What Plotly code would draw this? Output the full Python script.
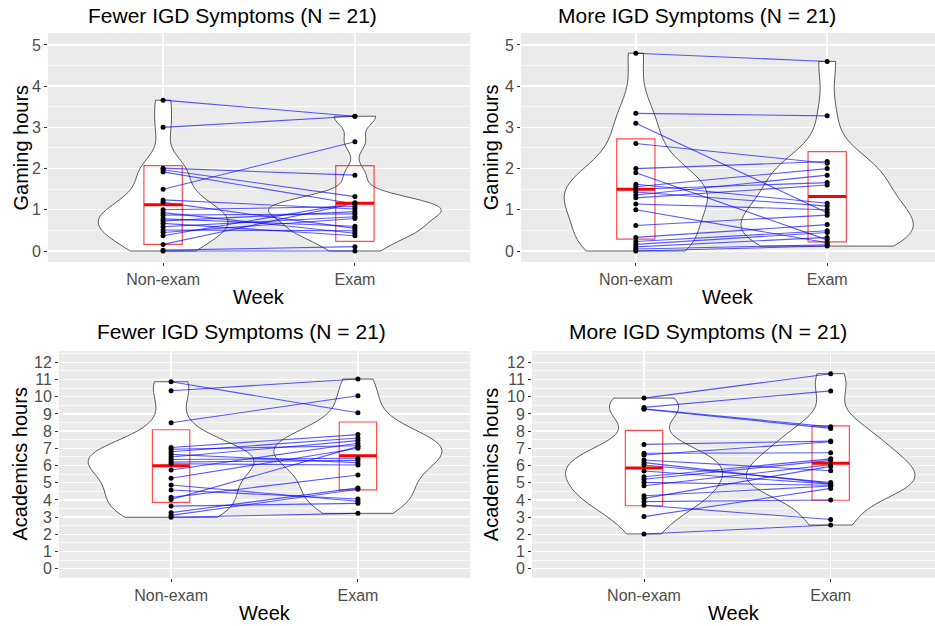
import numpy as np
import plotly.graph_objects as go

# ---------------- data ----------------
WEEKS = ["Non-exam", "Exam"]
PANEL_TITLES = ["Fewer IGD Symptoms (N = 21)", "More IGD Symptoms (N = 21)",
                "Fewer IGD Symptoms (N = 21)", "More IGD Symptoms (N = 21)"]
Y_TITLES = ["Gaming hours", "Gaming hours", "Academics hours", "Academics hours"]
X_TITLE = "Week"

# paired observations (same index = same participant)
gaming_fewer_nonexam = [3.66, 3.00, 2.01, 1.97, 1.92, 1.50, 1.24, 1.18, 1.00, 0.93, 0.87,
                        0.78, 0.73, 0.67, 0.59, 0.51, 0.45, 0.37, 0.16, 0.02, 0.00]
gaming_fewer_exam = [3.27, 3.27, 1.84, 1.32, 1.14, 2.65, 1.02, 0.55, 1.08, 0.43, 0.90,
                     0.60, 0.955, 0.37, 0.83, 0.49, 0.79, 1.17, 1.16, 0.105, 0.00]

gaming_more_nonexam = [4.80, 3.34, 3.10, 2.61, 2.00, 1.90, 1.62, 1.56, 1.50, 1.43, 1.36,
                       1.29, 1.14, 1.00, 0.62, 0.33, 0.23, 0.16, 0.10, 0.05, 0.00]
gaming_more_exam = [4.60, 3.28, 0.93, 2.13, 2.17, 0.27, 1.16, 2.00, 1.66, 1.09, 1.84,
                    1.60, 1.00, 0.20, 0.87, 0.64, 0.49, 0.45, 0.33, 0.15, 0.12]

acad_fewer_nonexam = [10.87, 10.35, 8.49, 7.05, 6.95, 6.80, 6.65, 6.50, 6.35, 6.20, 6.10,
                      5.74, 5.26, 4.87, 4.58, 4.15, 4.03, 3.64, 3.26, 3.10, 2.99]
acad_fewer_exam = [9.07, 11.03, 10.06, 7.80, 7.15, 7.60, 6.16, 7.45, 6.42, 6.30, 6.03,
                   7.30, 7.00, 3.92, 4.05, 5.45, 7.10, 3.80, 4.70, 4.62, 3.22]

acad_more_nonexam = [9.92, 9.38, 9.30, 9.27, 7.23, 6.71, 6.61, 6.32, 6.17, 6.03, 5.68,
                     5.35, 5.20, 5.02, 4.82, 4.24, 4.09, 3.90, 3.69, 3.03, 2.02]
acad_more_exam = [11.34, 10.34, 8.25, 8.16, 7.42, 6.74, 7.38, 5.70, 4.95, 5.01, 4.92,
                  6.39, 6.30, 4.85, 6.05, 4.81, 5.95, 4.00, 2.86, 4.67, 2.54]

# crossbar summaries (mean - sd, mean, mean + sd) for [Non-exam, Exam]
gaming_fewer_lo, gaming_fewer_mid, gaming_fewer_hi = [0.16, 0.235], [1.12, 1.16], [2.07, 2.07]
gaming_more_lo, gaming_more_mid, gaming_more_hi = [0.29, 0.22], [1.50, 1.32], [2.72, 2.41]
acad_fewer_lo, acad_fewer_mid, acad_fewer_hi = [3.86, 4.59], [5.99, 6.57], [8.08, 8.53]
acad_more_lo, acad_more_mid, acad_more_hi = [3.66, 3.98], [5.85, 6.13], [8.05, 8.31]

GAMING_TICKS = [0, 1, 2, 3, 4, 5]
ACAD_TICKS = list(range(0, 13))

# ---------------- layout constants ----------------
W, H = 935, 626
FONT = "Liberation Sans, Arial, sans-serif"
VIOLIN_MAX_WIDTH = 0.9
CROSSBAR_WIDTH = 0.2


def px_x(x):
    return x / W


def px_y(y):
    return 1 - y / H


panels = [
    dict(ne=gaming_fewer_nonexam, ex=gaming_fewer_exam, lo=gaming_fewer_lo, mid=gaming_fewer_mid,
         hi=gaming_fewer_hi, ticks=GAMING_TICKS, yr=[-0.267, 5.29],
         xpx=[48, 470], xr=[-0.6, 1.6], ypx=[33, 262],
         title_xy=(232.5, 15.5), ytitle_x=20, xtitle_y=296.7),
    dict(ne=gaming_more_nonexam, ex=gaming_more_exam, lo=gaming_more_lo, mid=gaming_more_mid,
         hi=gaming_more_hi, ticks=GAMING_TICKS, yr=[-0.267, 5.29],
         xpx=[521, 935], xr=[-0.6, 1.6 - 7 / 191.3], ypx=[33, 262],
         title_xy=(697, 15.5), ytitle_x=490.7, xtitle_y=296.7),
    dict(ne=acad_fewer_nonexam, ex=acad_fewer_exam, lo=acad_fewer_lo, mid=acad_fewer_mid,
         hi=acad_fewer_hi, ticks=ACAD_TICKS, yr=[-0.54, 12.66],
         xpx=[59, 470], xr=[-0.6, 1.6], ypx=[351, 578],
         title_xy=(241, 331.5), ytitle_x=20, xtitle_y=613),
    dict(ne=acad_more_nonexam, ex=acad_more_exam, lo=acad_more_lo, mid=acad_more_mid,
         hi=acad_more_hi, ticks=ACAD_TICKS, yr=[-0.54, 12.66],
         xpx=[532, 935], xr=[-0.6, 1.6 - 7.7 / 186.7], ypx=[351, 578],
         title_xy=(707.5, 331.5), ytitle_x=491.7, xtitle_y=613),
]


def nrd0(x):
    x = np.asarray(x, float)
    sd = np.std(x, ddof=1)
    q75, q25 = np.percentile(x, [75, 25])
    lo = min(sd, (q75 - q25) / 1.34)
    if lo <= 0:
        lo = sd if sd > 0 else 1.0
    return 0.9 * lo * len(x) ** -0.2


def kde_peak(x, bw):
    x = np.asarray(x, float)
    grid = np.linspace(x.min(), x.max(), 512)
    d = np.exp(-0.5 * ((grid[:, None] - x[None, :]) / bw) ** 2).sum(1)
    return (d / (len(x) * bw * np.sqrt(2 * np.pi))).max()


fig = go.Figure()
annotations = []
layout_axes = {}

for i, p in enumerate(panels):
    k = "" if i == 0 else str(i + 1)
    xa, ya = "x" + k, "y" + k
    groups = [p["ne"], p["ex"]]
    positions = list(range(len(WEEKS)))

    # violins (ggplot scale="area": width proportional to peak density)
    bws = [nrd0(g) for g in groups]
    peaks = [kde_peak(g, b) for g, b in zip(groups, bws)]
    pmax = max(peaks)
    for pos, g, b, pk in zip(positions, groups, bws, peaks):
        fig.add_trace(go.Violin(
            x0=pos, y=g, xaxis=xa, yaxis=ya, bandwidth=b,
            width=VIOLIN_MAX_WIDTH * pk / pmax, scalemode="width", spanmode="hard",
            side="both", points=False, fillcolor="white",
            line=dict(color="#333333", width=0.8), hoverinfo="skip",
            showlegend=False))

    # paired lines
    lx, ly = [], []
    for a, b in zip(p["ne"], p["ex"]):
        lx += [positions[0], positions[1], None]
        ly += [a, b, None]
    fig.add_trace(go.Scatter(x=lx, y=ly, xaxis=xa, yaxis=ya, mode="lines",
                             line=dict(color="rgba(0,0,255,0.65)", width=1.1),
                             hoverinfo="skip", showlegend=False))

    # crossbars
    fig.add_trace(go.Box(
        x=positions, q1=p["lo"], median=p["mid"], q3=p["hi"],
        lowerfence=p["lo"], upperfence=p["hi"], width=CROSSBAR_WIDTH,
        xaxis=xa, yaxis=ya, fillcolor="rgba(0,0,0,0)", whiskerwidth=0,
        line=dict(color="rgba(255,0,0,0.7)", width=1.2), hoverinfo="skip",
        showlegend=False))
    mx, my = [], []
    for pos, m in zip(positions, p["mid"]):
        mx += [pos - CROSSBAR_WIDTH / 2, pos + CROSSBAR_WIDTH / 2, None]
        my += [m, m, None]
    fig.add_trace(go.Scatter(x=mx, y=my, xaxis=xa, yaxis=ya, mode="lines",
                             line=dict(color="#FF0000", width=3),
                             hoverinfo="skip", showlegend=False))

    # points
    fig.add_trace(go.Scatter(
        x=[positions[0]] * len(p["ne"]) + [positions[1]] * len(p["ex"]),
        y=list(p["ne"]) + list(p["ex"]), xaxis=xa, yaxis=ya, mode="markers",
        marker=dict(color="black", size=5), hoverinfo="skip", showlegend=False))

    xdom = [px_x(p["xpx"][0]), min(1.0, px_x(p["xpx"][1]))]
    ydom = [px_y(p["ypx"][1]), px_y(p["ypx"][0])]
    layout_axes["xaxis" + k] = dict(
        domain=xdom, range=p["xr"], anchor=ya, tickvals=positions, ticktext=WEEKS,
        showgrid=True, gridcolor="white", gridwidth=1.4, zeroline=False,
        ticks="outside", ticklen=3, tickwidth=1, tickcolor="#333333",
        tickfont=dict(size=16, color="#4D4D4D", family=FONT), showline=False,
        fixedrange=True)
    layout_axes["yaxis" + k] = dict(
        domain=ydom, range=p["yr"], anchor=xa, tickvals=p["ticks"],
        showgrid=True, gridcolor="white", gridwidth=1.4, zeroline=False,
        ticks="outside", ticklen=3, tickwidth=1, tickcolor="#333333",
        tickfont=dict(size=16, color="#4D4D4D", family=FONT), showline=False,
        minor=dict(dtick=0.5, tick0=0, showgrid=True, gridcolor="white", gridwidth=0.7),
        fixedrange=True)

    tx, ty = p["title_xy"]
    annotations.append(dict(text=PANEL_TITLES[i], x=px_x(tx), y=px_y(ty), xref="paper",
                            yref="paper", showarrow=False, xanchor="center", yanchor="middle",
                            borderpad=0, font=dict(size=21, color="black", family=FONT)))
    annotations.append(dict(text=Y_TITLES[i], x=px_x(p["ytitle_x"]),
                            y=px_y((p["ypx"][0] + p["ypx"][1]) / 2), xref="paper",
                            yref="paper", showarrow=False, xanchor="center", yanchor="middle",
                            textangle=-90, font=dict(size=20, color="black", family=FONT)))
    annotations.append(dict(text=X_TITLE, x=px_x((p["xpx"][0] + p["xpx"][1]) / 2),
                            y=px_y(p["xtitle_y"]), xref="paper", yref="paper",
                            showarrow=False, xanchor="center", yanchor="middle",
                            borderpad=0, font=dict(size=20, color="black", family=FONT)))

fig.update_layout(
    width=W, height=H, margin=dict(l=0, r=0, t=0, b=0),
    paper_bgcolor="white", plot_bgcolor="#EBEBEB",
    violinmode="overlay", boxmode="overlay", showlegend=False,
    font=dict(family=FONT), annotations=annotations, **layout_axes)

# remove the browser's default 8px body margin so the figure fills the window
fig.write_html("out.html",
               config={"displayModeBar": False, "staticPlot": True},
               post_script="document.body.style.margin='0px';document.body.style.overflow='hidden';")
